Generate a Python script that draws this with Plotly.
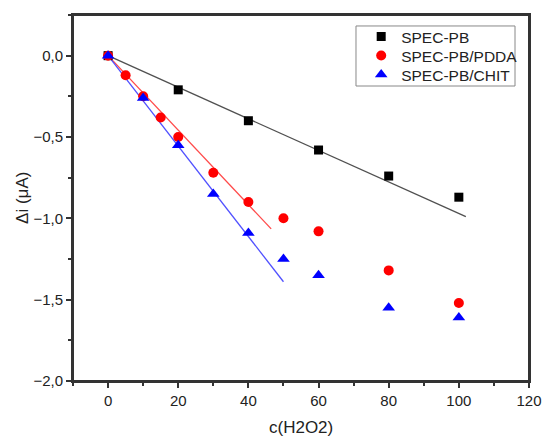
import plotly.graph_objects as go

# concentration of H2O2 (x) and current change (y)
x_pb = [0, 20, 40, 60, 80, 100]
y_pb = [0.0, -0.21, -0.40, -0.58, -0.74, -0.87]

x_pdda = [0, 5, 10, 15, 20, 30, 40, 50, 60, 80, 100]
y_pdda = [0.0, -0.12, -0.25, -0.38, -0.50, -0.72, -0.90, -1.00, -1.08, -1.32, -1.52]

x_chit = [0, 10, 20, 30, 40, 50, 60, 80, 100]
y_chit = [0.0, -0.26, -0.55, -0.85, -1.09, -1.25, -1.35, -1.55, -1.61]

# linear fit segments (start / end)
fit_x_pb = [0, 102]
fit_y_pb = [0.0, -0.99]
fit_x_pdda = [0, 46.5]
fit_y_pdda = [0.0, -1.065]
fit_x_chit = [0, 50]
fit_y_chit = [0.0, -1.39]

font = "Arial, Liberation Sans, sans-serif"
ink = "#222222"
axis_color = "#333333"

series = [
    ("SPEC-PB", x_pb, y_pb, fit_x_pb, fit_y_pb, "black", "#505050", "square", 9),
    ("SPEC-PB/PDDA", x_pdda, y_pdda, fit_x_pdda, fit_y_pdda, "#ff0000", "#ff4a4a", "circle", 10),
    ("SPEC-PB/CHIT", x_chit, y_chit, fit_x_chit, fit_y_chit, "#0000ff", "#5050ff", "triangle-up", 11),
]
legend_ids = ["legend", "legend2", "legend3"]
legend_y = [0.940, 0.888, 0.836]

fig = go.Figure()
for name, xs, ys, fx, fy, color, line_color, symbol, size in series:
    fig.add_trace(
        go.Scatter(
            x=fx, y=fy, mode="lines", showlegend=False,
            line={"color": line_color, "width": 1.3}, hoverinfo="skip",
        )
    )
for (name, xs, ys, fx, fy, color, line_color, symbol, size), lid in zip(series, legend_ids):
    fig.add_trace(
        go.Scatter(
            x=xs, y=ys, mode="markers", name=name, legend=lid,
            marker={"color": color, "symbol": symbol, "size": size, "line": {"width": 0}},
        )
    )

axis_common = dict(
    showline=True, linecolor=axis_color, linewidth=2, mirror=True,
    showgrid=False, zeroline=False, automargin=False,
    ticks="outside", ticklen=5, tickwidth=1.5, tickcolor=axis_color,
    tickfont={"family": font, "size": 15, "color": ink},
)
minor = {"ticks": "outside", "ticklen": 3, "tickwidth": 1.5, "tickcolor": axis_color}

fig.update_xaxes(range=[-10, 120], dtick=20, tick0=0, minor={"dtick": 10, **minor}, **axis_common)
fig.update_yaxes(
    range=[-2.0, 0.25], dtick=0.5, tick0=0, tickformat=".1f",
    minor={"dtick": 0.25, **minor}, **axis_common,
)

# axis titles
fig.add_annotation(
    text="c(H2O2)", xref="paper", yref="paper", x=0.5, y=-0.128,
    xanchor="center", yanchor="middle", showarrow=False,
    font={"family": font, "size": 17, "color": ink},
)
fig.add_annotation(
    text="Δi (μA)", xref="paper", yref="paper", x=-0.112, y=0.5,
    xanchor="center", yanchor="middle", showarrow=False, textangle=-90,
    font={"family": font, "size": 17, "color": ink},
)

# plot frame (top / right sides)
fig.add_shape(
    type="rect", xref="paper", yref="paper", x0=0, x1=1, y0=0, y1=1,
    line={"color": axis_color, "width": 2}, layer="above",
)

# legend frame
fig.add_shape(
    type="rect", xref="paper", yref="paper", x0=0.6206, x1=0.9693, y0=0.806, y1=0.970,
    line={"color": "#888888", "width": 1}, fillcolor="white", layer="below",
)

legends = {}
for lid, ly in zip(legend_ids, legend_y):
    legends[lid] = {
        "x": 0.632, "y": ly, "xanchor": "left", "yanchor": "middle",
        "borderwidth": 0, "bgcolor": "rgba(0,0,0,0)",
        "font": {"family": font, "size": 15.5, "color": ink},
        "itemwidth": 30,
    }

fig.update_layout(
    width=543, height=437,
    margin={"l": 73, "r": 14, "t": 15, "b": 56},
    paper_bgcolor="white", plot_bgcolor="white",
    separators=", ",
    **legends,
)

# drop the default page margin so the figure fills the window
fig.write_html(
    "out.html",
    config={"displayModeBar": False},
    post_script="document.body.style.margin='0';document.body.style.overflow='hidden';",
)
